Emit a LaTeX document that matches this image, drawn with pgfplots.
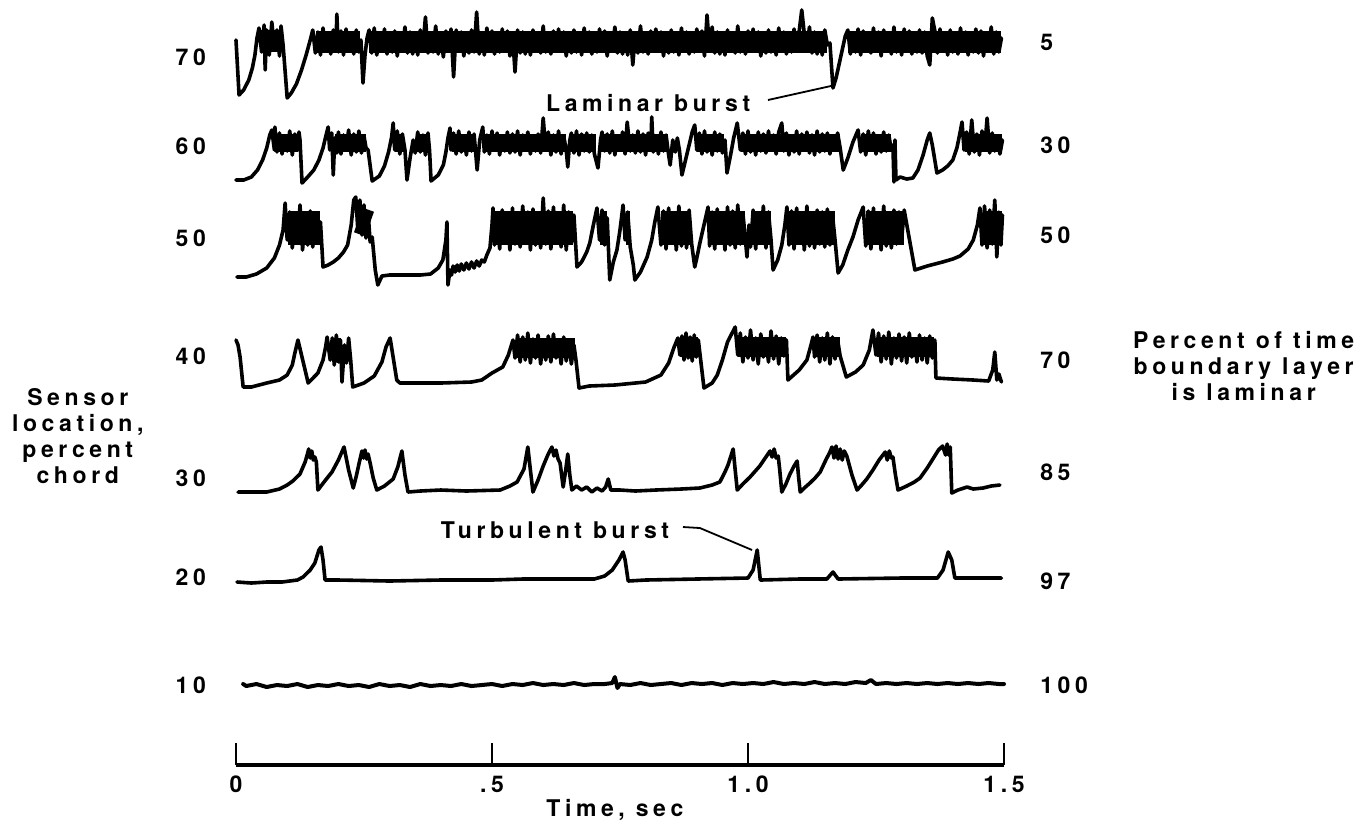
\documentclass[border=0pt]{standalone}
\usepackage{pgfplots}
\pgfplotsset{compat=1.18}
\usepackage{fontspec}
\setmainfont{TeX Gyre Heros}
\newfontfamily\labfont{TeX Gyre Heros}[LetterSpace=20]
\newcommand\lab{\labfont\bfseries\fontsize{11.5}{13}\selectfont}
\pgfplotsset{
  tr/.style={black, solid, line width=1.8pt, line join=round, line cap=round, mark=none},
  core/.style={black, solid, line cap=butt, mark=none, forget plot},
}

\begin{document}
\begin{tikzpicture}
\path[use as bounding box] (0,0) rectangle (684.5pt,413.5pt);
% traces: x in seconds, y in picture rows (downwards)
\begin{axis}[
  at={(0pt,0pt)}, anchor=south west,
  scale only axis, width=684.5pt, height=413.5pt,
  xmin=-0.4609, xmax=2.2129, ymin=0, ymax=827, y dir=reverse,
  hide axis, clip=false,
]
% 70 percent chord
\addplot[tr] coordinates {
(0,40)(0.006,95)(0.015,90)(0.025,80)(0.032,68)(0.037,55)(0.041,38)
(0.045,28)(0.050,52)(0.055,25)(0.057,70)(0.060,30)(0.065,55)(0.070,22)(0.075,50)(0.080,30)(0.085,56)(0.088,26)
(0.092,45)(0.100,98)
(0.108,93)(0.118,84)(0.128,70)(0.137,55)(0.145,40)(0.150,30)
(0.155,53)(0.160,32)(0.165,55)(0.170,28)(0.175,50)(0.180,33)(0.185,54)(0.190,30)(0.195,50)(0.197,14)(0.200,52)(0.205,31)(0.210,55)(0.215,29)(0.220,51)(0.225,35)(0.230,54)(0.235,30)(0.240,52)(0.244,40)
(0.248,83)(0.252,55)(0.256,38)
(0.260,30)(0.265,53)(0.270,28)(0.275,55)(0.280,33)(0.285,50)(0.290,29)(0.295,54)(0.300,36)(0.305,52)
(0.310,31)(0.315,56)(0.320,34)(0.325,49)(0.330,27)(0.335,53)(0.340,32)(0.345,54)(0.350,35)(0.355,55)
(0.360,30)(0.365,48)(0.370,17)(0.375,53)(0.380,33)(0.385,52)(0.390,26)(0.395,54)(0.400,34)(0.405,57)
(0.410,31)(0.415,51)(0.420,29)(0.425,77)(0.430,30)(0.435,50)(0.440,32)(0.445,56)(0.450,35)(0.455,53)
(0.460,30)(0.465,52)(0.470,12)(0.475,54)(0.480,33)(0.485,55)(0.490,28)(0.495,50)(0.500,31)(0.505,54)
(0.510,36)(0.515,52)(0.520,29)(0.525,51)(0.530,31)(0.535,56)(0.540,34)(0.545,72)(0.550,30)(0.555,53)
(0.560,32)(0.565,54)(0.570,35)(0.575,55)(0.580,30)(0.585,48)(0.590,33)(0.595,53)(0.600,26)(0.605,52)
(0.610,34)(0.615,54)(0.620,31)(0.625,51)(0.630,29)(0.635,50)(0.640,32)(0.645,56)(0.650,35)(0.655,53)
(0.660,30)(0.665,52)(0.670,33)(0.675,55)(0.680,28)(0.685,50)(0.690,32)(0.695,54)(0.700,36)(0.705,52)
(0.710,29)(0.715,51)(0.720,31)(0.725,56)(0.730,34)(0.735,49)(0.740,27)(0.745,53)(0.750,32)(0.755,54)
(0.760,35)(0.765,55)(0.770,30)(0.775,65)(0.780,33)(0.785,53)(0.790,26)(0.795,52)(0.800,34)(0.805,54)
(0.810,31)(0.815,51)(0.820,29)(0.825,50)(0.830,32)(0.835,56)(0.840,35)(0.845,53)(0.850,30)(0.855,52)
(0.860,33)(0.865,55)(0.870,28)(0.875,50)(0.880,32)(0.885,54)(0.890,36)(0.895,52)(0.900,29)(0.905,51)
(0.910,31)(0.915,56)(0.920,15)(0.925,49)(0.930,27)(0.935,53)(0.940,32)(0.945,54)(0.950,35)(0.955,55)
(0.960,30)(0.965,48)(0.970,33)(0.975,53)(0.980,26)(0.985,52)(0.990,34)(0.995,54)(1.000,31)(1.005,51)
(1.010,29)(1.015,50)(1.020,32)(1.025,56)(1.030,35)(1.035,53)(1.040,30)(1.045,52)(1.050,33)(1.055,55)
(1.060,28)(1.065,50)(1.070,32)(1.075,54)(1.080,36)(1.085,52)(1.090,29)(1.095,51)(1.100,31)(1.105,10)
(1.110,34)(1.115,49)(1.120,27)(1.125,53)(1.130,32)(1.135,54)(1.140,35)(1.145,55)(1.150,30)(1.155,45)
(1.160,43)(1.166,88)(1.172,78)(1.178,64)(1.184,50)(1.190,36)
(1.195,30)(1.200,54)(1.205,33)(1.210,52)(1.215,29)(1.220,55)(1.225,31)(1.230,50)(1.235,34)(1.240,53)
(1.245,28)(1.250,51)(1.255,32)(1.260,56)(1.265,30)(1.270,49)(1.275,35)(1.280,54)(1.285,27)(1.290,52)
(1.295,33)(1.300,55)(1.305,29)(1.310,50)(1.315,31)(1.320,54)(1.325,36)(1.330,52)(1.335,30)(1.340,53)
(1.345,32)(1.350,56)(1.355,65)(1.360,18)(1.365,31)(1.370,53)(1.375,29)(1.380,51)(1.385,34)(1.390,55)
(1.395,30)(1.400,52)(1.405,33)(1.410,54)(1.415,28)(1.420,50)(1.425,32)(1.430,55)(1.435,35)(1.440,52)
(1.445,29)(1.450,53)(1.455,31)(1.460,56)(1.465,34)(1.470,50)(1.475,27)(1.480,54)(1.485,32)(1.490,52)
(1.495,38)
};
% dense core of the turbulent stretches, 70 percent chord
\addplot[core, line width=11pt] coordinates {(0.046,41)(0.087,41)};
\addplot[core, line width=11pt] coordinates {(0.156,42)(0.243,42)};
\addplot[core, line width=11pt] coordinates {(0.259,42)(1.155,42)};
\addplot[core, line width=11pt] coordinates {(1.195,42)(1.494,42)};
% 60 percent chord
\addplot[tr] coordinates {
(0,180)(0.015,180)(0.030,177)(0.042,170)(0.052,160)(0.060,148)(0.066,135)(0.070,130)
(0.075,150)(0.076,127)(0.080,152)(0.085,133)(0.090,154)(0.095,136)(0.100,151)(0.105,131)(0.110,155)(0.115,134)(0.120,150)(0.123,132)
(0.125,140)(0.129,183)
(0.140,177)(0.152,170)(0.162,160)(0.170,148)(0.176,135)(0.180,127)
(0.183,150)(0.187,133)(0.190,175)(0.193,138)(0.197,153)(0.200,132)(0.205,154)(0.210,135)(0.215,150)(0.220,130)(0.225,155)(0.230,134)(0.235,152)(0.240,131)(0.245,153)(0.250,136)(0.254,148)
(0.258,150)(0.266,181)
(0.280,176)(0.290,166)(0.298,152)(0.304,137)(0.307,123)
(0.310,150)(0.315,131)(0.320,154)(0.325,134)(0.330,150)
(0.334,180)(0.340,158)(0.346,140)
(0.350,153)(0.355,132)(0.360,152)(0.365,135)(0.370,155)(0.375,133)
(0.378,150)(0.381,181)
(0.395,175)(0.405,165)(0.410,152)(0.414,138)(0.418,128)
(0.420,150)(0.425,133)(0.430,154)(0.435,131)(0.440,152)(0.445,136)(0.450,155)(0.455,132)(0.460,151)(0.465,134)
(0.471,170)(0.476,140)(0.482,127)
(0.485,152)(0.490,135)(0.495,154)(0.500,131)(0.505,150)(0.510,133)(0.515,155)(0.520,136)(0.525,151)(0.530,132)
(0.535,153)(0.540,134)(0.545,152)(0.550,131)(0.555,155)(0.560,135)(0.565,150)(0.570,132)(0.575,154)(0.580,137)
(0.585,151)(0.590,134)(0.595,153)(0.600,118)(0.605,150)(0.610,132)(0.615,155)(0.620,135)(0.625,152)(0.630,131)
(0.635,154)(0.640,136)(0.645,150)(0.648,167)(0.652,140)(0.655,133)(0.660,153)(0.665,131)(0.670,155)(0.675,134)(0.680,151)
(0.685,133)(0.690,152)(0.695,135)(0.700,154)(0.707,168)(0.712,140)(0.715,132)(0.720,151)(0.725,134)(0.730,153)
(0.735,131)(0.740,155)(0.745,136)(0.750,150)(0.755,132)(0.760,154)(0.764,122)(0.770,151)(0.775,135)(0.780,153)
(0.785,131)(0.790,152)(0.795,134)(0.800,155)(0.805,133)(0.810,150)(0.812,117)(0.815,152)(0.820,136)(0.825,154)(0.830,132)(0.835,151)(0.840,135)(0.845,155)
(0.848,165)(0.853,140)(0.858,152)(0.862,138)(0.866,150)(0.871,175)(0.878,160)(0.885,145)(0.891,132)(0.896,125)
(0.900,150)(0.905,133)(0.910,154)(0.915,131)(0.920,152)(0.925,136)(0.930,155)(0.935,132)(0.940,151)(0.945,134)(0.950,153)(0.955,140)
(0.959,173)(0.966,155)(0.972,138)(0.979,123)
(0.985,150)(0.990,133)(0.995,154)(1.000,131)(1.005,152)(1.010,136)(1.015,155)(1.020,132)(1.025,151)(1.030,134)
(1.035,153)(1.040,131)(1.045,150)(1.050,135)(1.055,154)(1.060,132)(1.066,123)(1.070,151)(1.075,133)(1.080,155)
(1.085,136)(1.090,152)(1.095,131)(1.100,154)(1.105,134)(1.110,150)(1.115,132)(1.120,153)(1.125,135)(1.130,155)
(1.135,131)(1.140,152)(1.145,134)(1.150,151)(1.155,133)(1.160,154)(1.165,136)(1.170,150)(1.175,133)(1.180,148)
(1.186,170)(1.195,158)(1.205,142)(1.215,130)
(1.220,152)(1.225,134)(1.230,155)(1.235,131)(1.240,150)(1.245,133)(1.250,154)(1.255,136)(1.260,152)(1.265,132)(1.270,151)(1.275,135)(1.280,150)
(1.283,145)(1.285,182)(1.287,140)(1.289,180)
(1.297,177)(1.310,179)(1.322,178)(1.332,170)(1.342,155)(1.350,140)(1.355,133)(1.360,145)(1.369,173)(1.380,170)(1.390,166)(1.400,160)(1.408,148)(1.414,133)(1.418,122)
(1.422,150)(1.427,132)(1.432,154)(1.437,120)(1.442,152)(1.447,134)(1.452,155)(1.457,131)(1.462,150)(1.467,118)(1.472,153)(1.477,133)(1.482,151)(1.487,136)(1.492,154)(1.497,140)
};
\addplot[core, line width=9pt] coordinates {(0.076,143)(0.122,143)};
\addplot[core, line width=9pt] coordinates {(0.194,143)(0.253,143)};
\addplot[core, line width=9pt] coordinates {(0.311,143)(0.329,143)};
\addplot[core, line width=9pt] coordinates {(0.351,143)(0.374,143)};
\addplot[core, line width=9pt] coordinates {(0.421,143)(0.464,143)};
\addplot[core, line width=9pt] coordinates {(0.486,143)(0.644,143)};
\addplot[core, line width=9pt] coordinates {(0.654,143)(0.703,143)};
\addplot[core, line width=9pt] coordinates {(0.713,143)(0.844,143)};
\addplot[core, line width=9pt] coordinates {(0.901,143)(0.954,143)};
\addplot[core, line width=9pt] coordinates {(0.986,143)(1.179,143)};
\addplot[core, line width=9pt] coordinates {(1.221,143)(1.279,143)};
\addplot[core, line width=9pt] coordinates {(1.423,143)(1.496,143)};
% 50 percent chord
\addplot[tr] coordinates {
(0.002,277)(0.020,277)(0.040,274)(0.060,268)(0.075,258)(0.085,245)(0.092,230)(0.096,203)
(0.100,240)(0.105,212)(0.110,248)(0.115,215)(0.120,243)(0.125,205)(0.130,250)(0.135,218)(0.140,245)(0.145,211)(0.150,247)(0.155,214)(0.160,240)(0.165,222)
(0.170,267)
(0.180,265)(0.190,262)(0.200,258)(0.210,252)(0.218,245)(0.225,225)(0.230,200)(0.234,197)
(0.238,230)(0.242,200)(0.246,235)(0.250,205)(0.254,238)(0.258,212)(0.262,242)(0.266,237)
(0.272,270)(0.277,285)
(0.285,276)(0.300,275)(0.330,275)(0.360,275)(0.380,274)(0.395,268)(0.404,260)(0.410,240)(0.412,222)(0.414,285)
(0.418,270)(0.421,275)(0.424,266)(0.428,272)(0.432,265)(0.436,271)(0.440,264)(0.445,270)(0.450,263)(0.455,269)(0.460,262)(0.465,268)(0.470,261)(0.475,266)(0.480,260)(0.485,262)(0.490,255)(0.496,248)(0.500,225)(0.502,208)
(0.505,245)(0.510,213)(0.515,249)(0.520,210)(0.525,242)(0.530,216)(0.535,250)(0.540,208)(0.545,244)(0.550,214)
(0.555,247)(0.560,206)(0.565,243)(0.570,212)(0.575,250)(0.580,209)(0.585,245)(0.590,215)(0.595,248)(0.600,198)
(0.605,244)(0.610,211)(0.615,249)(0.620,207)(0.625,242)(0.630,213)(0.635,247)(0.640,205)(0.645,250)(0.650,212)
(0.655,243)(0.660,215)
(0.666,267)(0.675,262)(0.685,252)(0.691,243)(0.698,225)(0.705,208)
(0.710,240)(0.715,210)(0.720,245)(0.725,218)
(0.730,280)(0.737,262)(0.744,250)(0.750,230)(0.756,205)
(0.760,240)(0.765,212)(0.770,247)
(0.776,265)(0.779,280)(0.790,272)(0.803,257)(0.812,240)(0.818,222)(0.824,207)
(0.830,245)(0.835,211)(0.840,249)(0.845,208)(0.850,243)(0.855,214)(0.860,250)(0.865,206)(0.870,246)(0.875,213)(0.880,248)(0.885,210)(0.890,244)
(0.896,267)(0.900,258)(0.906,243)(0.914,225)(0.922,207)
(0.925,246)(0.930,212)(0.935,249)(0.940,209)(0.945,243)(0.950,215)(0.955,250)(0.960,207)(0.965,245)(0.970,211)(0.975,248)(0.980,205)(0.985,244)(0.990,213)(0.995,240)
(0.998,257)(1.002,225)
(1.005,247)(1.010,210)(1.015,249)(1.020,214)(1.025,243)(1.030,206)(1.035,248)(1.040,212)(1.045,240)
(1.049,270)(1.058,260)(1.066,245)(1.072,225)(1.076,207)
(1.080,245)(1.085,211)(1.090,249)(1.095,208)(1.100,243)(1.105,214)(1.110,250)(1.115,206)(1.120,246)(1.125,213)(1.130,248)(1.135,210)(1.140,244)(1.145,212)(1.150,247)(1.155,209)(1.160,245)(1.165,215)(1.170,240)
(1.176,273)(1.185,265)(1.195,250)(1.205,237)(1.215,220)(1.225,207)
(1.230,246)(1.235,211)(1.240,249)(1.245,208)(1.250,243)(1.255,214)(1.260,250)(1.265,206)(1.270,246)(1.275,213)(1.280,248)(1.285,210)(1.290,244)(1.295,212)(1.300,240)(1.305,210)
(1.326,270)(1.350,266)(1.380,262)(1.400,259)(1.414,256)(1.430,249)(1.440,240)(1.448,225)(1.453,208)
(1.457,245)(1.462,206)(1.467,248)(1.472,210)(1.477,244)(1.482,200)(1.486,257)(1.490,212)(1.494,245)(1.497,215)
};
\addplot[core, line width=17pt] coordinates {(0.101,228)(0.164,228)};
\addplot[core, line width=13pt] coordinates {(0.239,220)(0.261,224)};
\addplot[core, line width=17pt] coordinates {(0.506,228)(0.659,228)};
\addplot[core, line width=17pt] coordinates {(0.711,228)(0.724,228)};
\addplot[core, line width=17pt] coordinates {(0.761,228)(0.769,228)};
\addplot[core, line width=17pt] coordinates {(0.831,228)(0.889,228)};
\addplot[core, line width=17pt] coordinates {(0.926,228)(0.994,228)};
\addplot[core, line width=17pt] coordinates {(1.006,228)(1.044,228)};
\addplot[core, line width=17pt] coordinates {(1.081,228)(1.169,228)};
\addplot[core, line width=17pt] coordinates {(1.231,228)(1.304,228)};
\addplot[core, line width=17pt] coordinates {(1.458,228)(1.496,228)};
% 40 percent chord
\addplot[tr] coordinates {
(0,340)(0.004,345)(0.008,357)(0.014,387)
(0.030,387)(0.060,383)(0.085,380)(0.100,375)(0.110,365)(0.115,353)(0.121,340)(0.141,383)
(0.160,373)(0.170,360)(0.175,347)(0.178,337)
(0.184,360)(0.188,338)(0.192,365)(0.196,335)(0.200,362)(0.204,340)(0.207,382)(0.212,345)(0.216,363)(0.220,338)(0.224,360)
(0.228,387)
(0.250,383)(0.270,376)(0.285,362)(0.293,347)(0.301,338)(0.314,380)
(0.320,383)(0.400,383)(0.460,382)(0.480,380)(0.500,373)(0.521,367)(0.532,355)(0.541,340)
(0.545,358)(0.550,335)(0.555,362)(0.560,337)(0.565,360)(0.570,333)(0.575,363)(0.580,339)(0.585,358)(0.590,335)
(0.595,364)(0.600,340)(0.605,360)(0.610,336)(0.615,362)(0.620,334)(0.625,358)(0.630,341)(0.635,364)(0.640,337)
(0.645,361)(0.650,340)(0.655,364)(0.660,345)(0.664,360)
(0.670,388)
(0.690,386)(0.740,385)(0.800,382)(0.830,375)(0.845,363)(0.855,348)(0.863,338)
(0.867,355)(0.871,336)(0.875,360)(0.879,333)(0.883,358)(0.887,337)(0.891,361)(0.895,335)(0.899,357)(0.903,340)
(0.914,388)
(0.930,383)(0.940,375)(0.950,360)(0.960,342)(0.975,327)
(0.980,355)(0.985,333)(0.990,362)(0.995,337)(1.000,358)(1.005,330)(1.010,360)(1.015,338)(1.020,364)(1.025,334)
(1.030,357)(1.035,339)(1.040,362)(1.045,331)(1.050,359)(1.055,336)(1.060,364)(1.065,338)(1.070,356)(1.075,340)
(1.078,380)
(1.100,370)(1.115,360)(1.122,347)(1.127,337)
(1.130,357)(1.135,335)(1.140,362)(1.145,338)(1.150,360)(1.155,333)(1.160,364)(1.165,337)(1.170,359)(1.175,340)(1.180,356)
(1.192,377)
(1.210,372)(1.225,365)(1.237,350)(1.244,330)
(1.250,355)(1.255,333)(1.260,362)(1.265,336)(1.270,359)(1.275,332)(1.280,364)(1.285,338)(1.290,358)(1.295,334)
(1.300,361)(1.305,337)(1.310,363)(1.315,333)(1.320,357)(1.325,339)(1.330,362)(1.335,335)(1.340,360)(1.345,338)
(1.350,363)(1.355,336)(1.360,358)(1.365,340)
(1.367,378)
(1.400,379)(1.440,380)(1.470,381)(1.478,370)(1.482,352)(1.486,380)(1.490,374)(1.495,382)
};
\addplot[core, line width=10pt] coordinates {(0.185,348)(0.205,348)};
\addplot[core, line width=10pt] coordinates {(0.546,348)(0.663,348)};
\addplot[core, line width=10pt] coordinates {(0.868,347)(0.902,347)};
\addplot[core, line width=10pt] coordinates {(0.981,347)(1.074,347)};
\addplot[core, line width=10pt] coordinates {(1.131,347)(1.179,347)};
\addplot[core, line width=10pt] coordinates {(1.251,347)(1.364,347)};
% 30 percent chord
\addplot[tr] coordinates {
(0.004,492)(0.030,492)(0.060,492)(0.085,489)(0.100,485)(0.111,481)(0.125,474)(0.135,462)(0.139,455)(0.142,449)(0.145,458)(0.148,451)(0.151,460)(0.154,457)(0.157,462)(0.160,490)
(0.175,480)(0.1875,472)(0.200,460)(0.211,447)(0.220,470)(0.229,488)
(0.235,476)(0.241,462)(0.246,451)(0.249,458)(0.252,450)(0.255,459)(0.258,454)(0.262,463)(0.268,478)(0.275,490)
(0.290,486)(0.307,479)(0.316,467)(0.324,451)(0.330,475)(0.336,492)
(0.360,491)(0.400,490)(0.450,491)(0.516,490)(0.535,486)(0.549,482)(0.5625,469)(0.570,447)(0.575,470)(0.580,492)
(0.590,480)(0.600,466)(0.609,455)(0.617,447)(0.621,456)(0.625,450)(0.629,459)(0.633,463)(0.639,487)(0.644,470)(0.648,454)(0.652,475)(0.656,490)
(0.665,486)(0.675,490)(0.685,487)(0.695,492)(0.705,488)(0.715,491)(0.722,487)(0.727,479)(0.732,490)(0.750,490)(0.780,491)(0.820,490)(0.870,489)(0.906,488)(0.930,485)(0.945,482)(0.955,472)(0.961,465)(0.971,449)(0.975,470)(0.979,490)
(0.990,484)(1.004,477)(1.023,466)(1.035,457)(1.043,451)(1.047,457)(1.051,449)(1.055,458)(1.059,456)(1.062,470)(1.066,492)
(1.074,484)(1.082,474)(1.090,466)(1.096,461)(1.099,478)(1.102,492)
(1.110,488)(1.121,483)(1.131,478)(1.141,472)(1.152,460)(1.160,452)(1.164,447)(1.168,458)(1.172,446)(1.176,459)(1.180,449)(1.184,460)(1.188,451)(1.193,456)(1.203,475)(1.213,490)
(1.222,485)(1.232,479)(1.244,470)(1.256,460)(1.262,456)(1.268,452)(1.272,460)(1.276,451)(1.280,458)(1.283,457)(1.288,475)(1.293,490)
(1.310,486)(1.325,482)(1.336,478)(1.350,468)(1.361,459)(1.372,450)(1.380,446)(1.386,455)(1.389,444)(1.392,455)(1.395,447)(1.398,493)
(1.410,490)(1.428,487)(1.440,489)(1.459,488)(1.475,486)(1.492,485)
};
% 20 percent chord
\addplot[tr] coordinates {
(0.002,582)(0.030,583)(0.060,582)(0.090,582)(0.120,580)(0.131,577)(0.145,570)(0.154,563)(0.162,550)(0.166,547)(0.170,560)(0.174,580)
(0.200,580)(0.300,581)(0.400,580)(0.500,580)(0.560,579)(0.700,579)(0.720,576)(0.735,570)(0.748,560)(0.756,552)(0.760,560)(0.766,581)
(0.800,580)(0.900,579)(1.000,578)(1.010,570)(1.018,550)(1.024,580)
(1.100,579)(1.154,579)(1.166,572)(1.176,579)
(1.300,578)(1.370,578)(1.381,570)(1.391,552)(1.398,560)(1.404,578)(1.450,578)(1.495,578)
};
% 10 percent chord
\addplot[tr, line width=2pt] coordinates {
(0.014,684)(0.020,686)(0.040,684)(0.060,687)(0.080,685)(0.100,686)(0.120,684)(0.140,687)(0.160,685)(0.180,686)
(0.200,684)(0.220,686)(0.240,685)(0.260,687)(0.280,684)(0.300,686)(0.320,685)(0.340,687)(0.360,684)(0.380,686)
(0.400,685)(0.420,686)(0.440,684)(0.460,686)(0.480,685)(0.500,684)(0.520,686)(0.540,684)(0.560,685)(0.580,683)
(0.600,685)(0.620,684)(0.640,685)(0.660,683)(0.680,685)(0.700,684)(0.720,684)(0.735,683)(0.740,677)(0.745,688)
(0.750,684)(0.770,685)(0.790,683)(0.810,685)(0.830,684)(0.850,683)(0.870,685)(0.890,683)(0.910,684)(0.930,683)
(0.950,685)(0.970,683)(0.990,684)(1.010,683)(1.030,684)(1.050,682)(1.070,684)(1.090,683)(1.110,684)(1.130,682)
(1.150,684)(1.170,683)(1.190,684)(1.210,682)(1.230,683)(1.240,680)(1.250,684)(1.270,683)(1.290,684)(1.310,683)
(1.330,684)(1.350,683)(1.370,684)(1.390,683)(1.410,684)(1.430,683)(1.450,684)(1.470,683)(1.490,684)(1.500,684)
};
% left labels: sensor location
\begin{scope}[every node/.style={font=\lab, anchor=east}]
\node at (axis cs:-0.045,57) {70};
\node at (axis cs:-0.045,146) {60};
\node at (axis cs:-0.045,238) {50};
\node at (axis cs:-0.045,356) {40};
\node at (axis cs:-0.045,478) {30};
\node at (axis cs:-0.045,577) {20};
\node at (axis cs:-0.045,685) {10};
\end{scope}
% right labels: percent of time laminar
\begin{scope}[every node/.style={font=\lab, anchor=west}]
\node at (axis cs:1.557,42) {5};
\node at (axis cs:1.557,145) {30};
\node at (axis cs:1.557,235) {50};
\node at (axis cs:1.557,360) {70};
\node at (axis cs:1.557,472) {85};
\node at (axis cs:1.557,581) {97};
\node at (axis cs:1.557,685) {100};
\end{scope}
\node[font=\lab, align=center] at (axis cs:-0.309,436) {Sensor\\location,\\percent\\chord};
\node[font=\lab, align=center] at (axis cs:1.968,366) {Percent of time\\boundary layer\\is laminar};
\node[font=\lab] at (axis cs:0.805,103) {Laminar burst};
\draw[line width=0.9pt] (axis cs:1.039,100) -- (axis cs:1.162,86);
\node[font=\lab] at (axis cs:0.623,530) {Turbulent burst};
\draw[line width=0.9pt] (axis cs:0.873,527) -- (axis cs:0.906,528) -- (axis cs:1.008,550);
\node[font=\lab] at (axis cs:0.74,810) {Time, sec};
\end{axis}
% time axis
\begin{axis}[
  at={(118pt,31pt)}, anchor=south west,
  scale only axis, width=384pt, height=11pt,
  xmin=0, xmax=1.5, ymin=0, ymax=1,
  axis x line=bottom, axis y line=none,
  x axis line style={-, line width=1.6pt},
  xtick={0,0.5,1,1.5}, xticklabels={0,.5,1.0,1.5},
  ytick=\empty,
  tick align=inside, major tick length=11pt,
  xtick style={line width=0.6pt, black},
  xticklabel style={font=\lab, yshift=-2pt},
]
\end{axis}
\end{tikzpicture}
\end{document}
